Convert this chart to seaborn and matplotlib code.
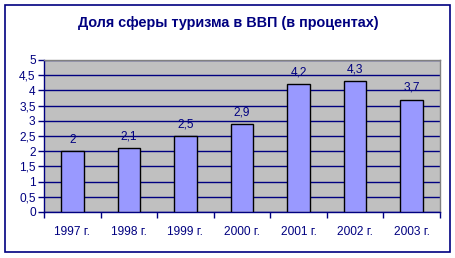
import matplotlib
matplotlib.use("Agg")
import matplotlib.pyplot as plt
import seaborn as sns
import pandas as pd
from matplotlib.patches import Rectangle

years = ["1997 г.", "1998 г.", "1999 г.", "2000 г.", "2001 г.", "2002 г.", "2003 г."]
values = [2.0, 2.1, 2.5, 2.9, 4.2, 4.3, 3.7]
yticks = [0, 0.5, 1, 1.5, 2, 2.5, 3, 3.5, 4, 4.5, 5]
title = "Доля сферы туризма в ВВП (в процентах)"

navy = "#000080"
sns.set_theme(style="white")
plt.rcParams["font.family"] = ["Liberation Sans", "DejaVu Sans"]

W, H = 456, 258
fig = plt.figure(figsize=(W / 100, H / 100), dpi=100)
fig.patch.set_facecolor("white")
fig.patches.append(Rectangle((5 / W, 1 - 252 / H), 445 / W, 247 / H, transform=fig.transFigure,
                             fill=False, edgecolor=navy, linewidth=1.2, zorder=0))

ax = fig.add_axes([44 / W, (H - 212) / H, 396 / W, 152 / H])
ax.set_facecolor("#C0C0C0")
df = pd.DataFrame({"year": years, "value": values})
sns.barplot(data=df, x="year", y="value", ax=ax, color="#9999FF", width=0.4,
            edgecolor="black", linewidth=1.0, saturation=1, zorder=3)

ax.set_ylim(0, 5)
ax.set_xlim(-0.5, len(years) - 0.5)
ax.set_yticks(yticks)
ax.set_yticklabels([("%g" % t).replace(".", ",") for t in yticks], color=navy, fontsize=8.6)
ax.yaxis.grid(True, color=navy, linewidth=1.0, zorder=1)
ax.set_axisbelow(True)
ax.set_xlabel("")
ax.set_ylabel("")
ax.tick_params(axis="y", left=True, length=4, width=1, color=navy, pad=2)
ax.set_xticks(range(len(years)))
ax.set_xticklabels(years, color=navy, fontsize=8.6)
ax.tick_params(axis="x", which="major", length=0, pad=10)
ax.set_xticks([i + 0.5 for i in range(-1, len(years))], minor=True)
ax.tick_params(axis="x", which="minor", bottom=True, length=4, width=1, color=navy)

for s in ["left", "bottom"]:
    ax.spines[s].set_color(navy)
    ax.spines[s].set_linewidth(1.0)
for s in ["top", "right"]:
    ax.spines[s].set_color("#808080")
    ax.spines[s].set_linewidth(1.0)

ax.bar_label(ax.containers[0], labels=[("%g" % v).replace(".", ",") for v in values],
             padding=4, color=navy, fontsize=8.6)

fig.text(228 / W, 1 - 23 / H, title, ha="center", va="center", color=navy,
         fontsize=10.4, fontweight="bold")

fig.savefig("out.png", dpi=100)
